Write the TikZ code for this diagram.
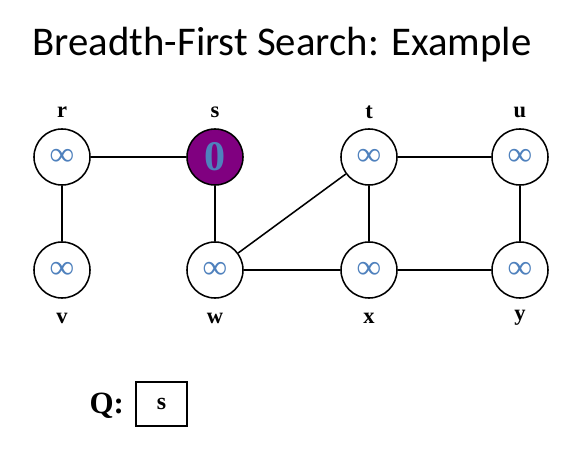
\documentclass[tikz,border=0pt]{standalone}
\usepackage{fontspec}
\setmainfont{Liberation Serif}
\newfontfamily\titlefont{Carlito}
\definecolor{infblue}{RGB}{79,129,189}
\definecolor{srcpurple}{RGB}{128,0,128}

\begin{document}
\begin{tikzpicture}[x=0.025cm, y=-0.025cm,
    vertex/.style={circle, draw, line width=1.1pt, minimum size=1.4cm, inner sep=0pt, fill=white,
        text=infblue, font=\fontsize{24}{24}\selectfont\bfseries},
    vlabel/.style={font=\fontsize{16}{16}\selectfont\bfseries},
    edge/.style={line width=1.1pt}]
    \useasboundingbox (0,0) rectangle (568,453);
    % title
    \node[anchor=base, font=\titlefont\fontsize{29}{29}\selectfont] (title) at (282,56) {Breadth-First Search: Example};
    % vertices
    \node[vertex] (r) at (62,157) {∞};
    \node[vertex, fill=srcpurple, font=\fontsize{30}{30}\selectfont\bfseries] (s) at (215,157) {0};
    \node[vertex] (t) at (369,157) {∞};
    \node[vertex] (u) at (520,157) {∞};
    \node[vertex] (v) at (62,270) {∞};
    \node[vertex] (w) at (215,270) {∞};
    \node[vertex] (x) at (369,270) {∞};
    \node[vertex] (y) at (520,270) {∞};
    % vertex names
    \node[vlabel] (rname) at (62,112) {r};
    \node[vlabel] (sname) at (215,112) {s};
    \node[vlabel] (tname) at (369,112) {t};
    \node[vlabel] (uname) at (520,112) {u};
    \node[vlabel] (vname) at (62,318) {v};
    \node[vlabel] (wname) at (215,318) {w};
    \node[vlabel] (xname) at (369,318) {x};
    \node[vlabel] (yname) at (520,318) {y};
    % edges
    \draw[edge] (r) -- (s);
    \draw[edge] (r) -- (v);
    \draw[edge] (s) -- (w);
    \draw[edge] (w) -- (t);
    \draw[edge] (w) -- (x);
    \draw[edge] (t) -- (x);
    \draw[edge] (t) -- (u);
    \draw[edge] (x) -- (y);
    \draw[edge] (u) -- (y);
    % queue
    \node[draw, line width=1.1pt, minimum width=51*0.025cm, minimum height=44*0.025cm,
        font=\fontsize{17}{17}\selectfont\bfseries] (queue) at (161.5,404) {s};
    \node[font=\fontsize{22}{22}\selectfont\bfseries, anchor=east] (qlabel) at (129,406) {Q:};
\end{tikzpicture}
\end{document}
